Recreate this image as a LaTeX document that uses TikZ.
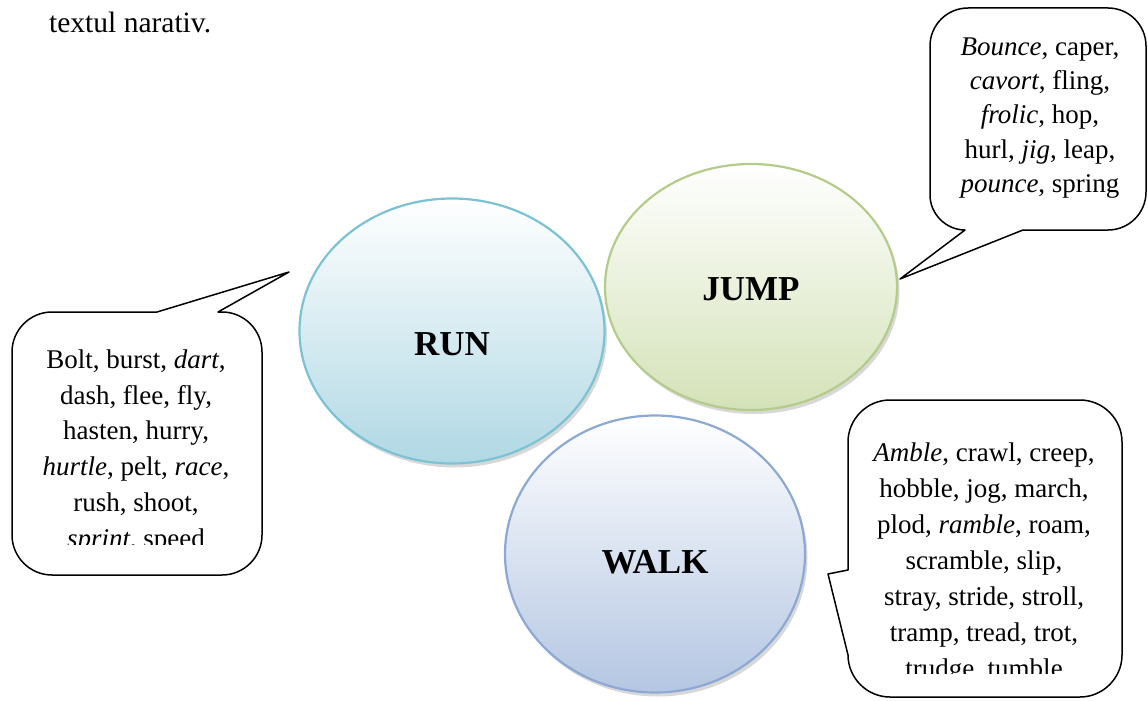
\documentclass[tikz,border=0pt]{standalone}
\usepackage{fontspec}
\setmainfont{Liberation Serif}
\usetikzlibrary{shapes.geometric,shadows}

\definecolor{runline}{RGB}{122,194,212}
\definecolor{runfill}{RGB}{176,216,228}
\definecolor{jumpline}{RGB}{180,204,138}
\definecolor{jumpfill}{RGB}{212,226,184}
\definecolor{walkline}{RGB}{140,168,212}
\definecolor{walkfill}{RGB}{180,198,226}

\tikzset{
  bubble/.style={ellipse, inner sep=0pt, line width=2.2pt,
    drop shadow={shadow xshift=2.5pt, shadow yshift=-4pt, opacity=0.28, fill=black!55}},
  verbword/.style={font=\fontsize{35}{40}\selectfont\bfseries, inner sep=0pt, anchor=base},
  callout/.style={draw=black, line width=1.5pt, fill=white, line join=round},
  wordlist/.style={align=center, inner sep=0pt, anchor=north}
}

\begin{document}
\begin{tikzpicture}[x=1pt, y=-1pt]
\useasboundingbox (0,0) rectangle (1148,701);

% heading line of the page
\node[font=\fontsize{29.5}{33}\selectfont, anchor=base west, inner sep=0pt] (heading) at (49,33) {textul narativ.};

% the three verb bubbles
\node[bubble, draw=runline, top color=white, bottom color=runfill,
      minimum width=305pt, minimum height=265pt] (run) at (452,331) {};
\node[bubble, draw=jumpline, top color=white, bottom color=jumpfill,
      minimum width=292pt, minimum height=246pt] (jump) at (751,287) {};
\node[bubble, draw=walkline, top color=white, bottom color=walkfill,
      minimum width=300pt, minimum height=277pt] (walk) at (655,554) {};

\node[verbword] (runlabel) at (452,355) {RUN};
\node[verbword] (jumplabel) at (751,300) {JUMP};
\node[verbword] (walklabel) at (655,573) {WALK};

% pointer tips of the callouts
\coordinate (runtip) at (289,272);
\coordinate (jumptip) at (900,279);
\coordinate (walktip) at (828,574);

% callout for RUN
\draw[callout] (12,352) .. controls (12,330) and (30,312) .. (52,312) -- (157,312)
  -- (runtip) -- (218,312) -- (222,312) .. controls (244,312) and (262,330) .. (262,352)
  -- (262,535) .. controls (262,557) and (244,575) .. (222,575) -- (52,575)
  .. controls (30,575) and (12,557) .. (12,535) -- cycle;
\begin{scope}
  \clip (14,314) rectangle (260,544);
  \node[wordlist, font=\fontsize{27}{35.8}\selectfont] (runwords) at (136,343)
    {\strut Bolt, burst, \textit{dart},\\ dash, flee, fly,\\ hasten, hurry,\\
     \textit{hurtle}, pelt, \textit{race},\\ rush, shoot,\\ \textit{sprint}, speed};
\end{scope}

% callout for JUMP
\draw[callout] (930,46) .. controls (930,25) and (947,8) .. (968,8) -- (1108,8)
  .. controls (1129,8) and (1146,25) .. (1146,46) -- (1146,192)
  .. controls (1146,213) and (1129,230) .. (1108,230) -- (1023,230)
  -- (jumptip) -- (965,230) .. controls (946,230) and (930,214) .. (930,195) -- cycle;
\node[wordlist, font=\fontsize{27}{34.3}\selectfont] (jumpwords) at (1040,31)
  {\strut\textit{Bounce}, caper,\\ \textit{cavort}, fling,\\ \textit{frolic}, hop,\\
   hurl, \textit{jig}, leap,\\ \textit{pounce}, spring};

% callout for WALK
\draw[callout] (848,442) .. controls (848,419) and (867,400) .. (890,400) -- (1080,400)
  .. controls (1103,400) and (1122,419) .. (1122,442) -- (1122,655)
  .. controls (1122,678) and (1103,697) .. (1080,697) -- (890,697)
  .. controls (867,697) and (848,678) .. (848,655) -- (walktip) -- (848,570) -- cycle;
\begin{scope}
  \clip (850,402) rectangle (1120,673);
  \node[wordlist, font=\fontsize{27}{36}\selectfont] (walkwords) at (984,436)
    {\strut\textit{Amble}, crawl, creep,\\ hobble, jog, march,\\ plod, \textit{ramble}, roam,\\
     scramble, slip,\\ stray, stride, stroll,\\ tramp, tread, trot,\\ trudge, tumble};
\end{scope}
\end{tikzpicture}
\end{document}
